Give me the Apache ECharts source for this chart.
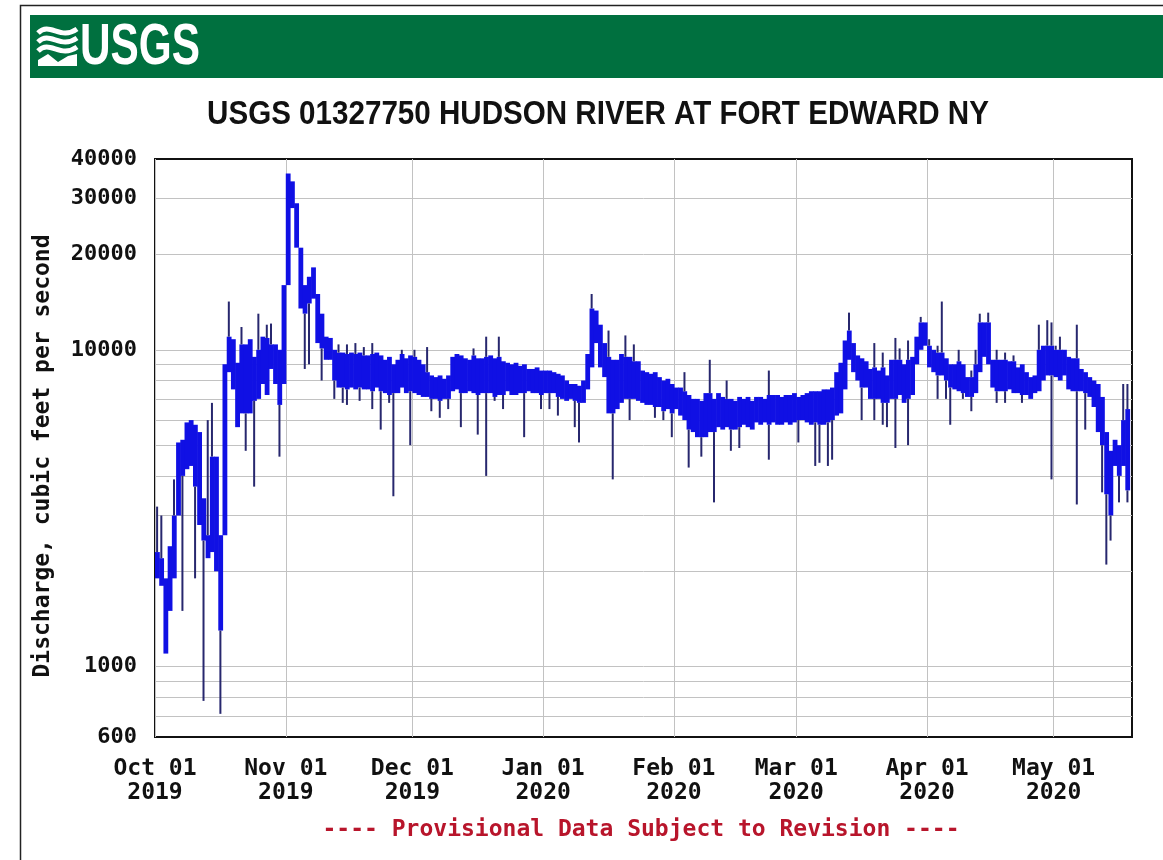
<!DOCTYPE html>
<html>
<head>
<meta charset="utf-8">
<title>USGS 01327750 HUDSON RIVER AT FORT EDWARD NY</title>
<script src="https://cdn.jsdelivr.net/npm/echarts@6/dist/echarts.min.js"></script>
<style>
  html, body { margin: 0; padding: 0; background: #ffffff; }
  #chart { width: 1163px; height: 860px; }
</style>
</head>
<body>
<div id="chart"></div>
<script>
// ---- Text ----
const stationTitle = 'USGS 01327750 HUDSON RIVER AT FORT EDWARD NY';
const yAxisTitle = 'Discharge, cubic feet per second';
const footnote = '---- Provisional Data Subject to Revision ----';

// ---- Daily discharge band (cfs), one entry per day starting 2019-10-01 ----
const startDay = [2019, 9, 1];
const coreLow = [
  // Oct 2019
  1900,1800,1100,1500,1900,3000,4000,4200,4300,3700,2800,2500,2200,2300,2000,1300,2600,8500,7500,5700,6300,6300,6300,6900,7000,7800,7200,8700,7800,6700,7800,
  // Nov 2019
  16000,28000,21000,13500,13000,14000,14500,10500,10100,9300,9300,8000,7600,7600,7500,7600,7500,7600,7500,7500,7400,7600,7400,7300,7200,7300,7300,7600,7300,7400,
  // Dec 2019
  7300,7200,7100,7100,7000,7000,6900,7000,7000,7400,7500,7300,7300,7400,7300,7200,7300,7300,7300,7100,7200,7200,7400,7200,7200,7300,7300,7400,7300,7300,7200,
  // Jan 2020
  7300,7300,7300,7100,7000,6900,7000,6900,6800,6800,7500,8800,10500,8800,8200,6300,6300,6500,6800,7000,7000,7000,6900,6800,6700,6700,6600,6600,6400,6500,6300,
  // Feb 2020
  6500,6200,6000,5600,5500,5300,5300,5300,5500,5500,5700,5600,5700,5600,5600,5700,5800,5700,5600,5900,5800,5900,5800,5900,5800,5800,5900,5800,5900,
  // Mar 2020
  6000,6000,5900,5800,5900,5800,5800,5900,6000,6200,6300,7500,9300,8500,8000,7600,7600,7000,7000,7000,6800,6800,7000,7000,7200,6800,7000,7200,9000,10000,10300,
  // Apr 2020
  8800,8500,8300,8300,8000,7600,7500,7400,7300,7100,7100,7300,8500,9500,9000,7600,7400,7400,7400,7500,7300,7300,7200,7200,7000,7300,7400,8000,8300,8300,
  // May 2020
  8200,8000,8300,7500,7400,7400,7400,7300,7100,6600,5500,5000,3500,3000,4300,4000,4300,3600
];
const coreHigh = [
  // Oct 2019
  2300,2200,1900,2400,3000,5100,5200,5900,6000,5800,5500,3400,2600,4600,4600,2600,9000,11000,10800,9100,10400,10400,10800,9500,10000,11000,10900,10400,10400,10000,16000,
  // Nov 2019
  36000,34000,29000,21000,16000,17000,18200,15000,13000,11000,10900,10000,9800,9800,9700,9800,9700,9800,9600,9600,9700,9800,9600,9300,9500,9000,9300,9700,9400,9600,
  // Dec 2019
  9500,9300,9000,8500,8300,8200,8300,8100,8300,9500,9700,9600,9400,9300,9600,9400,9400,9500,9600,9400,9500,9200,9100,9000,9100,8900,9000,8700,8700,8800,8600,
  // Jan 2020
  8600,8600,8500,8400,8300,8000,7800,7800,7700,8000,9700,13500,13300,12000,10500,9500,9300,9300,9700,9500,9500,9200,9200,8600,8500,8400,8500,8200,8000,8100,7800,
  // Feb 2020
  7600,7600,7400,7200,7000,7000,6900,7300,7300,7000,7300,7100,7000,7000,6900,7100,7000,7100,6900,7100,7100,7000,7200,7200,7200,7100,7200,7200,7300,
  // Mar 2020
  7100,7200,7300,7400,7400,7400,7500,7500,7600,8500,9100,10700,11500,10500,9600,9400,9200,8700,8800,8600,8800,8300,9300,9300,9300,9000,9300,9500,11000,12200,12200,
  // Apr 2020
  10300,10000,9800,9800,9400,9000,9000,9200,9000,8200,8200,9000,12200,12200,12200,9300,9300,9300,9300,9200,9200,8800,9000,8500,8200,8300,10000,10300,10300,10300,
  // May 2020
  10000,10000,10000,9500,9400,9400,8700,8500,8200,8000,7800,7100,5500,4800,5200,5000,6000,6500
];

// ---- Brief excursions outside the daily band: day index and peak/trough value (cfs) ----
const spikeDays = [
  0,1,4,6,9,11,12,13,15,17,20,21,23,24,26,27,29,
  35,36,39,42,43,44,45,45,47,48,49,51,51,53,55,56,58,60,
  61,64,65,67,69,72,75,76,78,78,80,81,82,87,91,
  93,95,99,100,103,107,108,111,112,113,118,120,122,
  125,126,129,131,132,135,136,138,145,145,
  152,156,157,159,160,164,167,170,170,172,172,173,175,175,176,178,178,181,
  183,185,185,186,187,188,190,191,193,193,194,195,197,199,199,201,201,203,205,209,211,212,212,
  213,214,218,218,220,224,225,226,228,229,230,230
];
const spikeValues = [
  3200,3000,3900,1500,1900,780,6000,6800,710,14200,11800,4800,3700,13000,12000,12100,4600,
  8700,9000,8000,7000,10400,6800,10400,6700,10500,6900,10200,10500,6500,5600,6800,3450,10000,5000,
  10000,10200,6400,6100,6500,5700,10100,5400,4000,11000,6900,11000,6500,5300,6500,
  6500,6200,5700,5100,15000,11500,3900,11100,6000,10400,6100,6000,5300,
  8500,4250,4600,9300,3300,8000,4800,4900,4500,8600,
  5100,4300,4400,4300,4500,13100,6000,6000,10500,5800,9800,5700,4900,10900,10100,5000,10700,12700,
  10800,7000,10300,14200,7000,5800,10000,7000,6400,8600,10000,13000,13100,6800,10000,6800,9800,9600,6800,12000,12400,3900,12200,
  10300,11000,3250,12000,5600,3550,2100,2500,3300,7800,7800,3300
];

// ---- Axis ticks ----
const yLabelValues = [600, 1000, 10000, 20000, 30000, 40000];
const yGridValues = [700, 800, 900, 1000, 2000, 3000, 4000, 5000, 6000, 7000, 8000, 9000, 10000, 20000, 30000];
const monthStarts = ['2019-10-01','2019-11-01','2019-12-01','2020-01-01','2020-02-01','2020-03-01','2020-04-01','2020-05-01'];
const monthLabels = ['Oct 01\n2019','Nov 01\n2019','Dec 01\n2019','Jan 01\n2020','Feb 01\n2020','Mar 01\n2020','Apr 01\n2020','May 01\n2020'];
const axisStart = '2019-10-01T00:00';
const axisEnd = '2020-05-19T14:00';

function localTime(str) {
  const [datePart, timePart] = str.split('T');
  const [y, m, d] = datePart.split('-').map(Number);
  const [hh, mm] = (timePart || '00:00').split(':').map(Number);
  return new Date(y, m - 1, d, hh, mm).getTime();
}
function dayTime(i, hour) {
  return new Date(startDay[0], startDay[1], startDay[2] + i, hour || 0).getTime();
}

// one band cell per day: [day start, next day start, low, high]
const bandData = coreLow.map((lo, i) => [dayTime(i), dayTime(i + 1), lo, coreHigh[i]]);
// excursions drawn from the nearer band edge out to the recorded value
const spikeData = spikeDays.map((d, k) => {
  const v = spikeValues[k];
  const edge = v < coreLow[d] ? coreLow[d] : coreHigh[d];
  return [dayTime(d, 12), edge, v];
});

const monthTs = monthStarts.map(localTime);
const monoFont = '"DejaVu Sans Mono", "Liberation Mono", monospace';
const bandColor = '#1010e4';
const spikeColor = '#27276e';

// white wave strokes of the header mark
function wave(y) {
  return { type: 'bezierCurve', silent: true, z: 2,
    shape: { x1: 38, y1: y, cpx1: 50, cpy1: y - 12, cpx2: 60, cpy2: y + 8, x2: 77, y2: y - 4 },
    style: { fill: 'none', stroke: '#ffffff', lineWidth: 5 } };
}

const chart = echarts.init(document.getElementById('chart'), null, { renderer: 'canvas' });

chart.setOption({
  backgroundColor: '#ffffff',
  animation: false,
  grid: {
    left: 155, top: 159, right: 31, bottom: 123,
    show: true, borderColor: '#111111', borderWidth: 2, backgroundColor: 'transparent'
  },
  xAxis: {
    // timestamps on a linear scale, ticked at the first of each month
    type: 'value',
    min: localTime(axisStart),
    max: localTime(axisEnd),
    axisLine: { show: false },
    axisTick: { show: false, customValues: monthTs },
    splitLine: { show: true, lineStyle: { color: '#c2c2c2', width: 1 } },
    axisLabel: {
      customValues: monthTs,
      formatter: (v) => {
        const i = monthTs.findIndex(t => Math.abs(t - v) < 3600000);
        return i >= 0 ? monthLabels[i] : '';
      },
      fontFamily: monoFont, fontWeight: 'bold', fontSize: 23,
      color: '#111111', lineHeight: 24, margin: 20, hideOverlap: false
    }
  },
  yAxis: {
    type: 'log',
    logBase: 10,
    min: 600,
    max: 40000,
    axisLine: { show: false },
    axisTick: { show: false, customValues: yGridValues },
    splitLine: { show: true, lineStyle: { color: '#c2c2c2', width: 1 } },
    axisLabel: {
      customValues: yLabelValues,
      formatter: (v) => String(Math.round(v)),
      fontFamily: monoFont, fontWeight: 'bold', fontSize: 22,
      color: '#111111', margin: 18, hideOverlap: false
    }
  },
  series: [
    {
      name: 'daily band',
      type: 'custom',
      data: bandData,
      encode: { x: [0, 1], y: [2, 3] },
      clip: true,
      z: 3,
      renderItem: (params, api) => {
        const a = api.coord([api.value(0), api.value(3)]);
        const b = api.coord([api.value(1), api.value(2)]);
        return {
          type: 'rect',
          shape: { x: a[0], y: a[1], width: b[0] - a[0] + 0.6, height: Math.max(b[1] - a[1], 1.5) },
          style: { fill: bandColor }
        };
      }
    },
    {
      name: 'excursions',
      type: 'custom',
      data: spikeData,
      encode: { x: 0, y: [1, 2] },
      clip: true,
      z: 4,
      renderItem: (params, api) => {
        const a = api.coord([api.value(0), api.value(1)]);
        const b = api.coord([api.value(0), api.value(2)]);
        return {
          type: 'line',
          shape: { x1: a[0], y1: a[1], x2: b[0], y2: b[1] },
          style: { stroke: spikeColor, lineWidth: 2 }
        };
      }
    }
  ],
  graphic: [
    // page frame
    { type: 'rect', silent: true, z: 0,
      shape: { x: 20.5, y: 5.5, width: 1200, height: 900 },
      style: { fill: 'none', stroke: '#222222', lineWidth: 1.5 } },
    // header band
    { type: 'rect', silent: true, z: 1,
      shape: { x: 30, y: 15, width: 1140, height: 63 },
      style: { fill: '#00703f' } },
    // wave mark
    wave(33), wave(42), wave(51),
    { type: 'polygon', silent: true, z: 2,
      shape: { points: [[38, 60], [48, 54], [58, 62], [68, 56], [77, 54], [77, 66], [38, 66]] },
      style: { fill: '#ffffff' } },
    { type: 'text', silent: true, z: 2, x: 80, y: 48, scaleX: 0.73,
      style: { text: 'USGS', fill: '#ffffff',
        font: 'bold 58px "Liberation Sans", Arial, sans-serif',
        align: 'left', verticalAlign: 'middle', textAlign: 'left', textVerticalAlign: 'middle' } },
    // station title
    { type: 'text', silent: true, z: 2, x: 598, y: 115, scaleX: 0.87,
      style: { text: stationTitle, fill: '#111111',
        font: 'bold 34px "Liberation Sans", Arial, sans-serif',
        align: 'center', verticalAlign: 'middle', textAlign: 'center', textVerticalAlign: 'middle' } },
    // y axis title
    { type: 'text', silent: true, z: 2, x: 43, y: 456, rotation: Math.PI / 2,
      style: { text: yAxisTitle, fill: '#111111',
        font: 'bold 23px ' + monoFont,
        align: 'center', verticalAlign: 'middle', textAlign: 'center', textVerticalAlign: 'middle' } },
    // provisional data note
    { type: 'text', silent: true, z: 2, x: 641, y: 830,
      style: { text: footnote, fill: '#b8152b',
        font: 'bold 23px ' + monoFont,
        align: 'center', verticalAlign: 'middle', textAlign: 'center', textVerticalAlign: 'middle' } }
  ]
});
</script>
</body>
</html>
